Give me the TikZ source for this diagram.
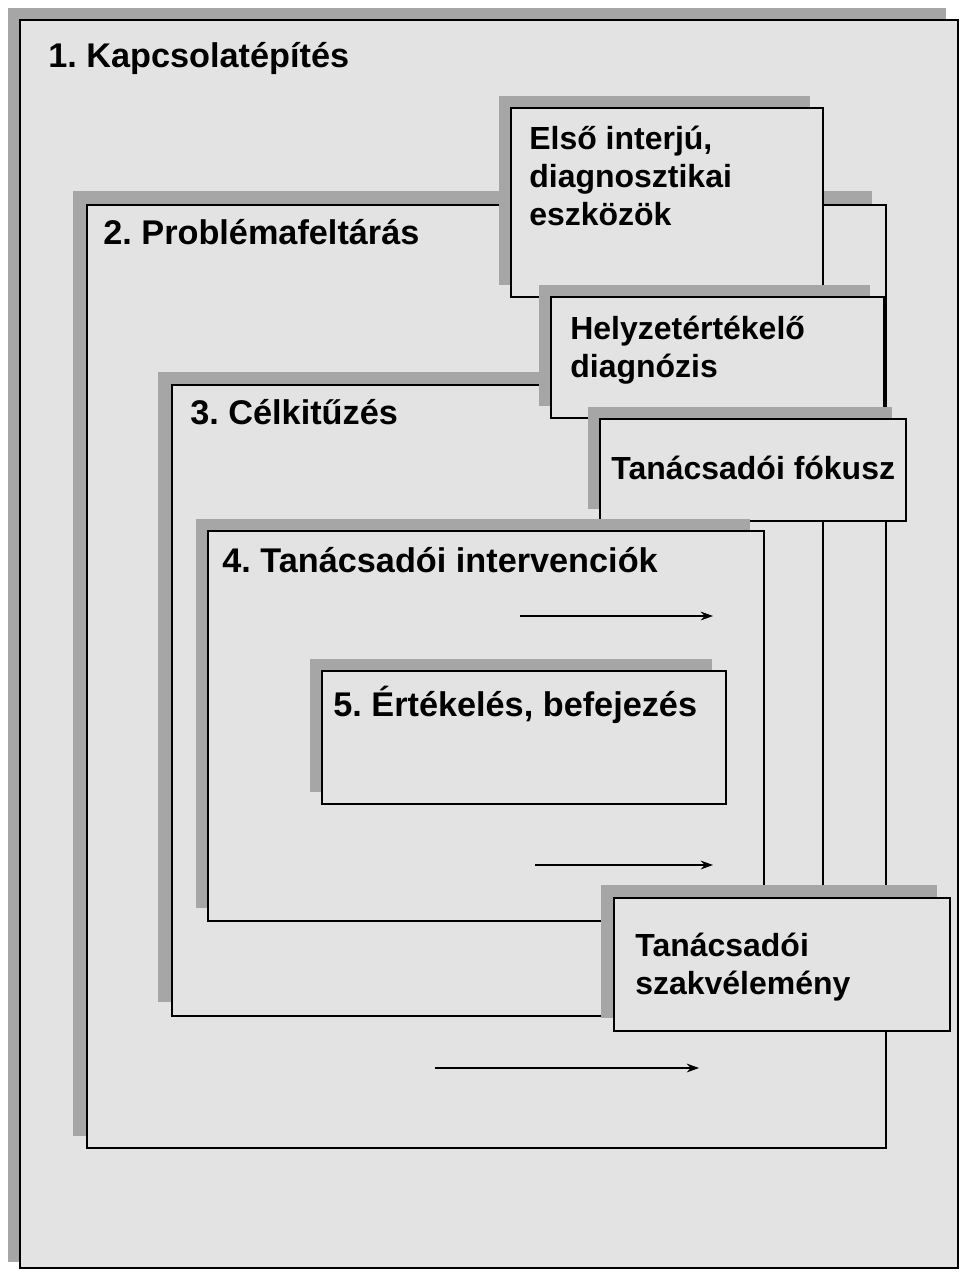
\documentclass[tikz,border=0pt]{standalone}
\usepackage{fontspec}
\setmainfont{Liberation Sans}
\usetikzlibrary{arrows.meta}
\frenchspacing
\tikzset{
  shadowbox/.style={fill=black!35, draw=none},
  phasebox/.style={fill=black!11, draw=black, line width=0.7pt},
  phaselabel/.style={anchor=north west, inner sep=0pt, font=\bfseries\fontsize{19.5}{22}\selectfont},
  toollabel/.style={anchor=north west, inner sep=0pt, align=left, font=\bfseries\fontsize{18.2}{21.6}\selectfont},
  flow/.style={-{Stealth[length=7pt,width=5pt]}, line width=0.7pt}
}
\begin{document}
\begin{tikzpicture}[x=0.02cm, y=-0.02cm]
    \useasboundingbox (0,0) rectangle (969,1272);

    % 1. fázis
    \fill[shadowbox] (8,8) rectangle (946,1262);
    \filldraw[phasebox] (20,20) rectangle (958,1268);
    \node[phaselabel] (p1) at (48,42) {1. Kapcsolatépítés};

    % 2. fázis
    \fill[shadowbox] (73,191) rectangle (872,1136);
    \filldraw[phasebox] (87,205) rectangle (886,1148);
    \node[phaselabel] (p2) at (103,219) {2. Problémafeltárás};

    % első interjú
    \fill[shadowbox] (499,96) rectangle (810,285);
    \filldraw[phasebox] (511,108) rectangle (823,297);
    \node[toollabel] (t1) at (529,126) {Első interjú,\\diagnosztikai\\eszközök};

    % 3. fázis
    \fill[shadowbox] (158,372) rectangle (810,1002);
    \filldraw[phasebox] (172,385) rectangle (823,1016);
    \node[phaselabel] (p3) at (190,399) {3. Célkitűzés};

    % helyzetértékelő diagnózis
    \fill[shadowbox] (539,285) rectangle (870,406);
    \filldraw[phasebox] (551,297) rectangle (884,418);
    \node[toollabel] (t2) at (570,316) {Helyzetértékelő\\diagnózis};

    % tanácsadói fókusz
    \fill[shadowbox] (588,407) rectangle (892,509);
    \filldraw[phasebox] (600,419) rectangle (906,521);
    \node[toollabel] (t3) at (611,456) {Tanácsadói fókusz};

    % 4. fázis
    \fill[shadowbox] (196,519) rectangle (750,908);
    \filldraw[phasebox] (208,531) rectangle (764,921);
    \node[phaselabel] (p4) at (222,547) {4. Tanácsadói intervenciók};

    % 5. fázis
    \fill[shadowbox] (310,659) rectangle (712,792);
    \filldraw[phasebox] (322,671) rectangle (726,804);
    \node[phaselabel] (p5) at (333,686) {5. Értékelés, befejezés};

    % szakvélemény
    \fill[shadowbox] (601,885) rectangle (937,1018);
    \filldraw[phasebox] (614,898) rectangle (950,1031);
    \node[toollabel] (t4) at (635,933) {Tanácsadói\\szakvélemény};

    % nyilak
    \coordinate (a1) at (520,616); \coordinate (b1) at (713,616);
    \coordinate (a2) at (535,865); \coordinate (b2) at (713,865);
    \coordinate (a3) at (435,1068); \coordinate (b3) at (699,1068);
    \draw[flow] (a1) -- (b1);
    \draw[flow] (a2) -- (b2);
    \draw[flow] (a3) -- (b3);
\end{tikzpicture}
\end{document}
